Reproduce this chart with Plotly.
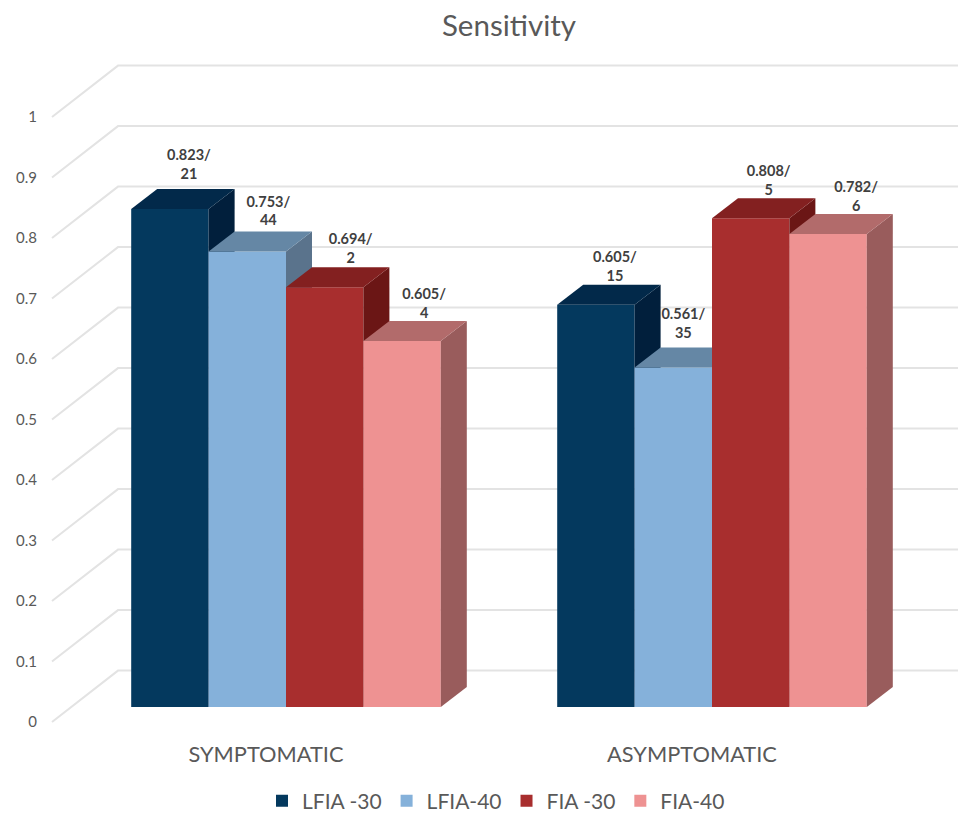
import plotly.graph_objects as go

# ---- data ----
categories = ["SYMPTOMATIC", "ASYMPTOMATIC"]
series_names = ["LFIA -30", "LFIA-40", "FIA -30", "FIA-40"]
lfia30 = [0.823, 0.665]
lfia40 = [0.753, 0.561]
fia30 = [0.694, 0.808]
fia40 = [0.605, 0.782]
lfia30_labels = ["0.823/<br>21", "0.605/<br>15"]
lfia40_labels = ["0.753/<br>44", "0.561/<br>35"]
fia30_labels = ["0.694/<br>2", "0.808/<br>5"]
fia40_labels = ["0.605/<br>4", "0.782/<br>6"]
tick_values = [0, 0.1, 0.2, 0.3, 0.4, 0.5, 0.6, 0.7, 0.8, 0.9, 1]
tick_labels = ["0", "0.1", "0.2", "0.3", "0.4", "0.5", "0.6", "0.7", "0.8", "0.9", "1"]

# ---- styling / layout ----
PAGE = 8              # default body margin of the written page
W, H = 966 - PAGE, 814
PX_X = 426.0          # pixels per category
PX_Y = 605.0          # pixels per value unit
X0_PX, Y0_PX = 286.0 - PAGE, 707.0 - PAGE
FONT = "Lato"
GREY = "#595959"
front = ["#04395E", "#85B1DA", "#A82E2E", "#EE9292"]
top = ["#02294A", "#6587A5", "#832020", "#B26B6B"]
side = ["#011F3C", "#5A738C", "#6B1615", "#995C5C"]
GRID = "#E3E3E3"
BAR_W = 77.4 / PX_X
DX, DY = 26 / PX_X, 20 / PX_Y          # bar depth
WALL_X, WALL_DY = (118 - 286) / PX_X, 36.4 / PX_Y
FLOOR_X, FLOOR_DY = (52 - 286) / PX_X, -15 / PX_Y
# label offsets from the bar's back-top centre, in pixels, one row per series
label_dx = [[19, 19], [21, 10], [26, 18], [22, 28]]
label_dy = [[23, 17], [19, 23], [17, 16], [16, 16]]

values = [lfia30, lfia40, fia30, fia40]
labels = [lfia30_labels, lfia40_labels, fia30_labels, fia40_labels]

fig = go.Figure()

# back wall and side wall gridlines
for v in tick_values:
    fig.add_trace(go.Scatter(
        x=[FLOOR_X, WALL_X, (W - X0_PX) / PX_X],
        y=[v + FLOOR_DY, v + WALL_DY, v + WALL_DY],
        mode="lines", line=dict(color=GRID, width=2), hoverinfo="skip",
        showlegend=False, zorder=0))

# bars, with faces in series order so later bars cover earlier sides
for s, vals in enumerate(values):
    z = s + 1
    xs = [g + (s - 1.5) * BAR_W for g in range(len(categories))]
    fig.add_trace(go.Bar(x=xs, y=vals, width=BAR_W, name=series_names[s],
                         marker=dict(color=front[s], line=dict(width=0)), zorder=z))
    for x, v in zip(xs, vals):
        l, r = x - BAR_W / 2, x + BAR_W / 2
        fig.add_trace(go.Scatter(
            x=[r, r + DX, r + DX, r, r], y=[0, DY, v + DY, v, 0],
            mode="lines", fill="toself", fillcolor=side[s], line=dict(width=0),
            hoverinfo="skip", showlegend=False, zorder=z))
        fig.add_trace(go.Scatter(
            x=[l, l + DX, r + DX, r, l], y=[v, v + DY, v + DY, v, v],
            mode="lines", fill="toself", fillcolor=top[s], line=dict(width=0),
            hoverinfo="skip", showlegend=False, zorder=z))

# data labels
for s, vals in enumerate(values):
    fig.add_trace(go.Scatter(
        x=[g + (s - 1.5) * BAR_W + label_dx[s][g] / PX_X for g in range(len(categories))],
        y=[vals[g] + DY + label_dy[s][g] / PX_Y for g in range(len(categories))],
        mode="text", text=labels[s], textposition="middle center",
        textfont=dict(family=FONT, size=14.5, color="#404040", weight="bold"),
        hoverinfo="skip", showlegend=False, zorder=6))

fig.update_layout(
    width=W, height=H, autosize=False,
    margin=dict(l=0, r=0, t=0, b=0, autoexpand=False),
    paper_bgcolor="white", plot_bgcolor="white",
    barmode="overlay",
    font=dict(family=FONT, color=GREY),
    title=dict(text="Sensitivity", x=(509 - PAGE) / W, y=1 - (26 - PAGE) / H, xanchor="center", yanchor="middle",
               xref="paper", yref="paper", font=dict(family=FONT, size=29.5, color=GREY)),
    xaxis=dict(range=[-X0_PX / PX_X, (W - X0_PX) / PX_X], domain=[0, 1], anchor="free",
               position=1 - (739 - PAGE) / H, tickmode="array",
               tickvals=[g - 20 / PX_X for g in range(len(categories))],
               ticktext=categories, tickfont=dict(family=FONT, size=21.8, color=GREY),
               showgrid=False, zeroline=False, showline=False, ticks="", fixedrange=True),
    yaxis=dict(range=[(Y0_PX - H) / PX_Y, Y0_PX / PX_Y], domain=[0, 1], anchor="free",
               position=(37 - PAGE) / W, tickmode="array",
               tickvals=[v - 15 / PX_Y for v in tick_values], ticktext=tick_labels,
               tickfont=dict(family=FONT, size=15, color=GREY),
               showgrid=False, zeroline=False, showline=False, ticks="", fixedrange=True),
    legend=dict(orientation="h", x=(268 - PAGE - 6) / W, y=1 - (801 - PAGE) / H, xanchor="left", yanchor="middle",
                font=dict(family=FONT, size=21, color=GREY), itemwidth=30,
                bgcolor="rgba(0,0,0,0)", traceorder="normal"),
)

fig.write_html("out.html")
